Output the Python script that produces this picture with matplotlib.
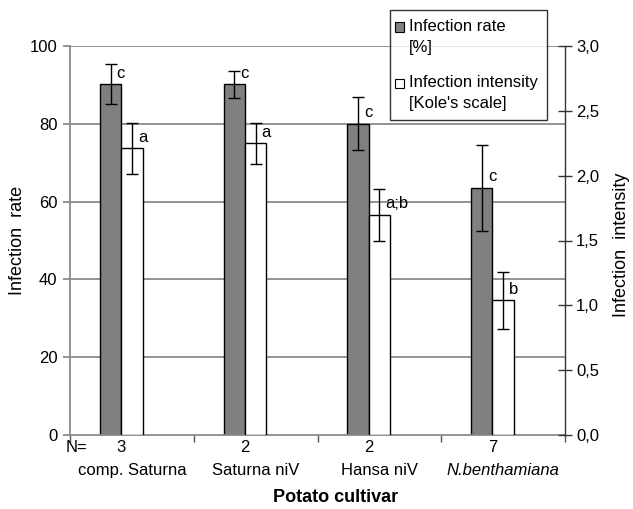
import matplotlib
matplotlib.use("Agg")
import matplotlib.pyplot as plt
import numpy as np
from matplotlib.patches import Patch, Rectangle
from matplotlib.legend_handler import HandlerPatch

plt.rcParams['font.family'] = ['Liberation Sans', 'DejaVu Sans']

categories = ["comp. Saturna", "Saturna niV", "Hansa niV", "N.benthamiana"]
n_values = ["3", "2", "2", "7"]
rate = [90.2, 90.2, 80.0, 63.5]
rate_err = [5.2, 3.5, 6.8, 11.0]
rate_letters = ["c", "c", "c", "c"]
intensity = [2.21, 2.25, 1.70, 1.04]
intensity_err = [0.20, 0.16, 0.20, 0.22]
intensity_letters = ["a", "a", "a;b", "b"]
left_ticks = [0, 20, 40, 60, 80, 100]
right_ticks = [0.0, 0.5, 1.0, 1.5, 2.0, 2.5, 3.0]

FS = 12
grid_c = "#8a8a8a"

fig = plt.figure(figsize=(6.33, 5.09), dpi=100)
ax = fig.add_axes([70/633, 1-435/509, (565-70)/633, (435-46)/509])
ax2 = ax.twinx()

x = np.arange(len(categories))
w = 0.172

ax.set_xlim(-0.5, 3.5)
ax.set_ylim(0, 100)
ax2.set_ylim(0, 3.0)

for yv in left_ticks[1:]:
    ax.axhline(yv, color=grid_c, lw=1.3, zorder=0)

ax.bar(x - w, rate, width=w, color="#808080", edgecolor="black", lw=1.0, zorder=2)
ax.errorbar(x - w, rate, yerr=rate_err, fmt="none", ecolor="black", elinewidth=1.0,
            capsize=4, capthick=1.0, zorder=3)
ax2.bar(x, intensity, width=w, color="white", edgecolor="black", lw=1.0, zorder=2)
ax2.errorbar(x, intensity, yerr=intensity_err, fmt="none", ecolor="black", elinewidth=1.0,
             capsize=4, capthick=1.0, zorder=3)

for xi, v, t in zip(x - w, rate, rate_letters):
    ax.annotate(t, xy=(xi, v), xytext=(6, 11), textcoords="offset pixels",
                ha="left", va="center", fontsize=FS, zorder=4)
for xi, v, t in zip(x, intensity, intensity_letters):
    ax2.annotate(t, xy=(xi, v), xytext=(6, 11), textcoords="offset pixels",
                 ha="left", va="center", fontsize=FS, zorder=4)

# axes styling
for s in ["top", "right"]:
    ax.spines[s].set_visible(False)
ax.spines["left"].set_color(grid_c)
ax.spines["left"].set_linewidth(1.3)
ax.spines["bottom"].set_color(grid_c)
ax.spines["bottom"].set_linewidth(1.3)
for s in ["top", "left", "bottom"]:
    ax2.spines[s].set_visible(False)
ax2.spines["right"].set_color("#333333")
ax2.spines["right"].set_linewidth(1.0)

ax.set_yticks(left_ticks)
ax.set_yticklabels([str(t) for t in left_ticks], fontsize=FS)
ax.tick_params(axis="y", direction="out", length=5, color=grid_c, width=1.3, pad=4)

ax.set_xticks([-0.5, 0.5, 1.5, 2.5, 3.5])
ax.set_xticklabels([])
ax.tick_params(axis="x", direction="out", length=5, color="#555555", width=1.0)

ax2.set_yticks(right_ticks)
ax2.set_yticklabels([f"{t:.1f}".replace(".", ",") for t in right_ticks], fontsize=FS)
ax2.tick_params(axis="y", direction="inout", length=10, color="#333333", width=1.0, pad=3)

# N row and category names
trans = ax.get_xaxis_transform()
ax.text(-0.5 + 7/124, -0.033, "N=", transform=trans, ha="center", va="center", fontsize=FS)
for xi, n in zip(x, n_values):
    ax.text(xi - 0.085, -0.033, n, transform=trans, ha="center", va="center", fontsize=FS)
for xi, c in zip(x, categories):
    style = "italic" if c.startswith("N.") else "normal"
    ax.text(xi, -0.09, c, transform=trans, ha="center", va="center", fontsize=FS, style=style)

fig.text(336/633, 1-497/509, "Potato cultivar", ha="center", va="center",
         fontsize=13, fontweight="bold")
fig.text(18/633, 1-240/509, "Infection  rate", rotation=90, ha="center", va="center", fontsize=13)
fig.text(622/633, 1-245/509, "Infection  intensity", rotation=90, ha="center", va="center", fontsize=13)


def top_square(legend, orig_handle, xdescent, ydescent, width, height, fontsize):
    return Rectangle((-xdescent - 3.2, -ydescent + 7.5), width * 0.9, height * 0.9)


handles = [Patch(facecolor="#808080", edgecolor="black", lw=0.8),
           Patch(facecolor="white", edgecolor="black", lw=0.8)]
leg = fig.legend(handles, ["Infection rate\n[%]", "Infection intensity\n[Kole's scale]"],
                 loc="upper left", bbox_to_anchor=(390/633, 1-10/509), fontsize=12,
                 frameon=True, fancybox=False, handlelength=0.6, handleheight=0.6,
                 handletextpad=0.0, borderpad=0.55, labelspacing=1.25, borderaxespad=0,
                 handler_map={Patch: HandlerPatch(patch_func=top_square)})
leg.get_frame().set_edgecolor("black")
leg.get_frame().set_linewidth(1.0)
for t in leg.get_texts():
    t.set_linespacing(1.45)

fig.savefig("out.png", dpi=100)
